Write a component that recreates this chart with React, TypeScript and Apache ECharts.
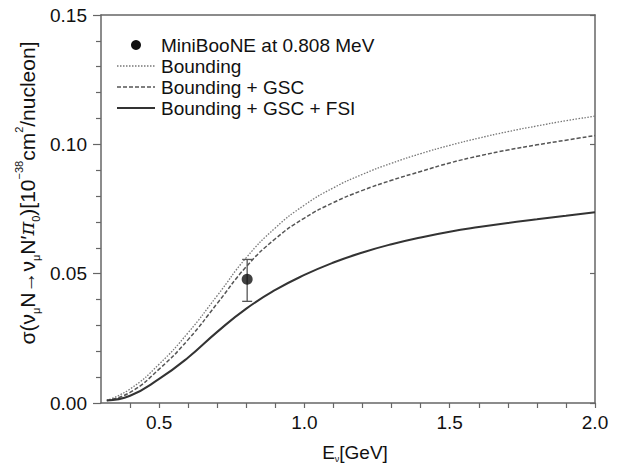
import React, { useEffect, useRef } from "react";
import * as echarts from "echarts";

const energies = [0.32, 0.4, 0.5, 0.6, 0.7, 0.8, 0.9, 1.0, 1.1, 1.2, 1.3, 1.4, 1.5, 1.6, 1.7, 1.8, 1.9, 2.0];
const bounding = [0.001, 0.0054, 0.015, 0.0272, 0.0415, 0.0562, 0.0677, 0.0765, 0.0832, 0.0884, 0.0927, 0.0964, 0.0996, 0.1024, 0.1049, 0.1071, 0.1091, 0.1109];
const boundingGsc = [0.001, 0.0041, 0.0131, 0.0245, 0.0385, 0.0527, 0.0635, 0.0715, 0.0775, 0.0822, 0.0861, 0.0895, 0.0928, 0.0955, 0.0978, 0.0998, 0.1016, 0.1034];
const boundingGscFsi = [0.001, 0.0028, 0.0093, 0.0176, 0.0275, 0.0365, 0.0437, 0.0495, 0.0543, 0.0582, 0.0614, 0.064, 0.0662, 0.068, 0.0696, 0.071, 0.0724, 0.0737];

const miniBooneE = [0.803];
const miniBooneSigma = [0.0478];
const miniBooneLow = [0.0393];
const miniBooneHigh = [0.0555];

const legendLabels = ["MiniBooNE at 0.808 MeV", "Bounding", "Bounding + GSC", "Bounding + GSC + FSI"];

const FONT = "'Liberation Sans', Arial, Helvetica, sans-serif";
const AXIS_COLOR = "#666";

const pairs = (ys: number[]) => energies.map((e, i) => [e, ys[i]]);

export default function App() {
  const ref = useRef<HTMLDivElement>(null);
  useEffect(() => {
    if (!ref.current) return;
    const chart = echarts.init(ref.current, undefined, { renderer: "svg" });
    const isMult = (v: number, step: number) => Math.abs(v / step - Math.round(v / step)) < 1e-6;
    const legendX1 = 117;
    const legendX2 = 155;
    const textX = 161;
    const rows = [45, 66, 87, 108];
    const option: any = {
      animation: false,
      backgroundColor: "#fff",
      grid: { left: 101, right: 26, top: 15, bottom: 64, containLabel: false },
      xAxis: [
        {
          type: "value",
          min: 0.3,
          max: 2.0,
          interval: 0.1,
          axisLine: { show: true, onZero: false, lineStyle: { color: AXIS_COLOR, width: 1.5 } },
          axisTick: { show: true, inside: false, length: 5, lineStyle: { color: AXIS_COLOR, width: 1.2 } },
          splitLine: { show: false },
          axisLabel: {
            margin: 10,
            fontSize: 19,
            fontFamily: FONT,
            color: "#111",
            showMinLabel: false,
            formatter: (v: number) => (isMult(v, 0.5) ? v.toFixed(1) : ""),
          },
        },
        {
          type: "value",
          position: "top",
          min: 0.3,
          max: 2.0,
          interval: 0.1,
          axisLine: { show: true, onZero: false, lineStyle: { color: AXIS_COLOR, width: 1.5 } },
          axisTick: { show: false },
          axisLabel: { show: false },
          splitLine: { show: false },
        },
      ],
      yAxis: [
        {
          type: "value",
          min: 0,
          max: 0.15,
          interval: 0.05,
          axisLine: { show: true, onZero: false, lineStyle: { color: AXIS_COLOR, width: 1.5 } },
          axisTick: { show: true, inside: false, length: 8, lineStyle: { color: AXIS_COLOR, width: 1.2 } },
          minorTick: { show: true, splitNumber: 5, length: 5, lineStyle: { color: AXIS_COLOR, width: 1.2 } },
          splitLine: { show: false },
          axisLabel: {
            margin: 14,
            fontSize: 19,
            fontFamily: FONT,
            color: "#111",
            formatter: (v: number) => v.toFixed(2),
          },
        },
        {
          type: "value",
          position: "right",
          min: 0,
          max: 0.15,
          interval: 0.05,
          axisLine: { show: true, onZero: false, lineStyle: { color: AXIS_COLOR, width: 1.5 } },
          axisTick: { show: true, inside: true, length: 5, lineStyle: { color: AXIS_COLOR, width: 1.2 } },
          minorTick: { show: false },
          axisLabel: { show: false },
          splitLine: { show: false },
        },
      ],
      series: [
        {
          name: legendLabels[1],
          type: "line",
          data: pairs(bounding),
          smooth: 0.5,
          showSymbol: false,
          lineStyle: { color: "#777", width: 1.3, type: [1.5, 1.5] },
        },
        {
          name: legendLabels[2],
          type: "line",
          data: pairs(boundingGsc),
          smooth: 0.5,
          showSymbol: false,
          lineStyle: { color: "#555", width: 1.5, type: [4, 2] },
        },
        {
          name: legendLabels[3],
          type: "line",
          data: pairs(boundingGscFsi),
          smooth: 0.5,
          showSymbol: false,
          lineStyle: { color: "#333", width: 2 },
        },
        {
          name: "error",
          type: "custom",
          data: miniBooneE.map((e, i) => [e, miniBooneLow[i], miniBooneHigh[i]]),
          renderItem: (params: any, api: any) => {
            const x = api.value(0);
            const lo = api.coord([x, api.value(1)]);
            const hi = api.coord([x, api.value(2)]);
            const w = 5;
            const style = { stroke: "#555", lineWidth: 1.3 };
            return {
              type: "group",
              children: [
                { type: "line", shape: { x1: lo[0], y1: lo[1], x2: hi[0], y2: hi[1] }, style },
                { type: "line", shape: { x1: lo[0] - w, y1: lo[1], x2: lo[0] + w, y2: lo[1] }, style },
                { type: "line", shape: { x1: hi[0] - w, y1: hi[1], x2: hi[0] + w, y2: hi[1] }, style },
              ],
            };
          },
          z: 3,
        },
        {
          name: legendLabels[0],
          type: "scatter",
          data: miniBooneE.map((e, i) => [e, miniBooneSigma[i]]),
          symbol: "circle",
          symbolSize: 11,
          itemStyle: { color: "#111" },
          z: 4,
        },
      ],
      graphic: [
        { type: "circle", shape: { cx: 136, cy: rows[0], r: 5 }, style: { fill: "#111" } },
        { type: "line", shape: { x1: legendX1, y1: rows[1], x2: legendX2, y2: rows[1] }, style: { stroke: "#777", lineWidth: 1.3, lineDash: [1.5, 1.5] } },
        { type: "line", shape: { x1: legendX1, y1: rows[2], x2: legendX2, y2: rows[2] }, style: { stroke: "#555", lineWidth: 1.5, lineDash: [4, 2] } },
        { type: "line", shape: { x1: legendX1, y1: rows[3], x2: legendX2, y2: rows[3] }, style: { stroke: "#333", lineWidth: 2 } },
        ...legendLabels.map((t, i) => ({
          type: "text",
          x: textX,
          y: rows[i],
          style: { text: t, fontSize: 19, fontFamily: FONT, fill: "#111", textAlign: "left", textVerticalAlign: "middle" },
        })),
        {
          type: "text",
          x: 355,
          y: 452,
          style: {
            text: "E{sub|ν}[GeV]",
            fontSize: 19,
            fontFamily: FONT,
            fill: "#111",
            textAlign: "center",
            textVerticalAlign: "middle",
            rich: {
              sub: { fontSize: 9, fontFamily: FONT, fill: "#111", verticalAlign: "bottom", lineHeight: 22 },
            },
          },
        },
        {
          type: "text",
          x: 27,
          y: 193,
          rotation: Math.PI / 2,
          style: {
            text: "σ(ν{sub|μ}N→ν{sub|μ}N′{pi|π}{sub|0})[10{sup|−38}cm{sup|2}/nucleon]",
            fontSize: 21,
            fontFamily: FONT,
            fill: "#111",
            textAlign: "center",
            textVerticalAlign: "middle",
            rich: {
              sub: { fontSize: 11, fontFamily: FONT, fill: "#111", verticalAlign: "bottom", lineHeight: 28 },
              sup: { fontSize: 11, fontFamily: FONT, fill: "#111", verticalAlign: "top", lineHeight: 28 },
              pi: { fontSize: 21, fontFamily: "'DejaVu Serif', serif", fontStyle: "italic", fill: "#111" },
            },
          },
        },
      ],
    };
    chart.setOption(option);
    return () => chart.dispose();
  }, []);
  return <div ref={ref} style={{ width: 621, height: 467, position: "absolute", left: 0, top: 0 }} />;
}
